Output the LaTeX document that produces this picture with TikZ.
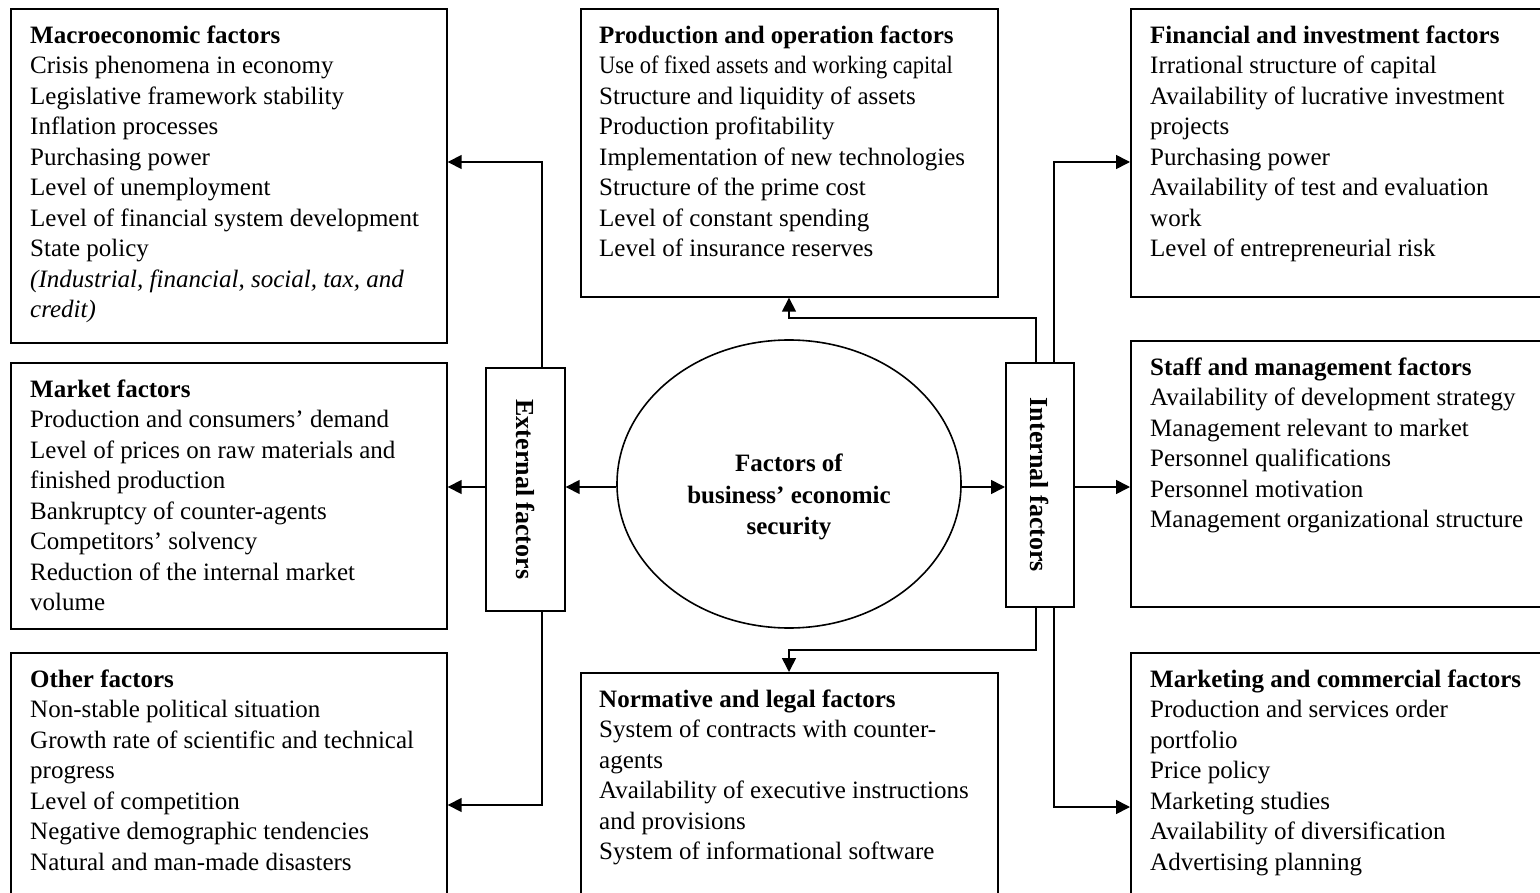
\documentclass[tikz,border=0pt]{standalone}
\usepackage{fontspec}
\setmainfont{Liberation Serif}
\usetikzlibrary{arrows.meta,shapes.geometric}
\begin{document}
\begin{tikzpicture}[x=1pt,y=-1pt,
  box/.style={draw, line width=1.7pt, rectangle, inner sep=0pt, anchor=north west},
  txt/.style={anchor=north west, align=left, inner sep=0pt, font=\fontsize{25}{30.5}\selectfont},
  vlab/.style={rotate=-90, inner sep=0pt, font=\bfseries\fontsize{26}{30}\selectfont},
  arr/.style={line width=1.6pt, -{Triangle[length=14pt,width=14pt]}}
]
\useasboundingbox (0,0) rectangle (1540,893);
\clip (0,0) rectangle (1540,893);
\fill[white] (0,0) rectangle (1540,893);

% boxes
\node[box, minimum width=436pt, minimum height=334pt] (macro) at (10,8) {};
\node[box, minimum width=436pt, minimum height=266pt] (market) at (10,362) {};
\node[box, minimum width=436pt, minimum height=300pt] (other) at (10,652) {};
\node[box, minimum width=417pt, minimum height=288pt] (prod) at (580,8) {};
\node[box, minimum width=417pt, minimum height=280pt] (norm) at (580,672) {};
\node[box, minimum width=460pt, minimum height=288pt] (fin) at (1130,8) {};
\node[box, minimum width=460pt, minimum height=266pt] (staff) at (1130,340) {};
\node[box, minimum width=460pt, minimum height=300pt] (mkt) at (1130,652) {};
\node[box, minimum width=79pt, minimum height=243pt] (ext) at (485,367) {};
\node[box, minimum width=68pt, minimum height=244pt] (int) at (1005,362) {};
\node[draw, ellipse, line width=1.6pt, minimum width=344pt, minimum height=288pt, inner sep=0pt] (ell) at (789,484) {};

% texts
\node[txt] (macrot) at (30,23) {\rule{0pt}{20pt}\textbf{Macroeconomic factors}\\
Crisis phenomena in economy\\
Legislative framework stability\\
Inflation processes\\
Purchasing power\\
Level of unemployment\\
Level of financial system development\\
State policy\\
\textit{(Industrial, financial, social, tax, and}\\
\textit{credit)}};

\node[txt] (markett) at (30,377) {\rule{0pt}{20pt}\textbf{Market factors}\\
Production and consumers’ demand\\
Level of prices on raw materials and\\
finished production\\
Bankruptcy of counter-agents\\
Competitors’ solvency\\
Reduction of the internal market\\
volume};

\node[txt] (othert) at (30,667) {\rule{0pt}{20pt}\textbf{Other factors}\\
Non-stable political situation\\
Growth rate of scientific and technical\\
progress\\
Level of competition\\
Negative demographic tendencies\\
Natural and man-made disasters};

\node[txt] (prodt) at (599,23) {\rule{0pt}{20pt}\textbf{Production and operation factors}\\
\scalebox{0.9}[1]{Use of fixed assets and working capital}\\
Structure and liquidity of assets\\
Production profitability\\
Implementation of new technologies\\
Structure of the prime cost\\
Level of constant spending\\
Level of insurance reserves};

\node[txt] (normt) at (599,687) {\rule{0pt}{20pt}\textbf{Normative and legal factors}\\
System of contracts with counter-\\
agents\\
Availability of executive instructions\\
and provisions\\
System of informational software};

\node[txt] (fint) at (1150,23) {\rule{0pt}{20pt}\textbf{Financial and investment factors}\\
Irrational structure of capital\\
Availability of lucrative investment\\
projects\\
Purchasing power\\
Availability of test and evaluation\\
work\\
Level of entrepreneurial risk};

\node[txt] (stafft) at (1150,355) {\rule{0pt}{20pt}\textbf{Staff and management factors}\\
Availability of development strategy\\
Management relevant to market\\
Personnel qualifications\\
Personnel motivation\\
Management organizational structure};

\node[txt] (mktt) at (1150,667) {\rule{0pt}{20pt}\textbf{Marketing and commercial factors}\\
Production and services order\\
portfolio\\
Price policy\\
Marketing studies\\
Availability of diversification\\
Advertising planning};

\node[vlab] (extl) at (ext.center) {External factors};
\node[vlab] (intl) at (int.center) {Internal factors};
\node[align=center, inner sep=0pt, font=\bfseries\fontsize{25}{31.5}\selectfont] (ellt) at (789,497) {Factors of\\business’ economic\\security};

% rails
\coordinate (hy) at (0,487);
\coordinate (exr) at (542,0);
\coordinate (ir1) at (1036,0);
\coordinate (ir2) at (1054,0);
\coordinate (y162) at (0,162);
\coordinate (y805) at (0,805);
\coordinate (y807) at (0,807);
\coordinate (pr) at (789,318);
\coordinate (pn) at (789,650);

% connectors
\draw[arr] (ell.west |- hy) -- (ext.east |- hy);
\draw[arr] (ext.west |- hy) -- (market.east |- hy);
\draw[arr] (ell.east |- hy) -- (int.west |- hy);
\draw[arr] (int.east |- hy) -- (staff.west |- hy);
\draw[arr] (ext.north -| exr) |- (macro.east |- y162);
\draw[arr] (ext.south -| exr) |- (other.east |- y805);
\draw[arr] (int.north -| ir1) |- (pr) -- (prod.south -| pr);
\draw[arr] (int.north -| ir2) |- (fin.west |- y162);
\draw[arr] (int.south -| ir1) |- (pn) -- (norm.north -| pn);
\draw[arr] (int.south -| ir2) |- (mkt.west |- y807);
\end{tikzpicture}
\end{document}
